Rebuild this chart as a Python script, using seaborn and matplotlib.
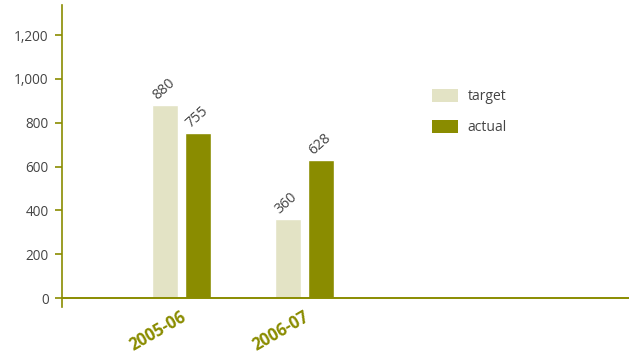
import matplotlib
matplotlib.use("Agg")
import matplotlib.pyplot as plt
import matplotlib.transforms as mtransforms
from matplotlib.patches import Patch
from matplotlib.ticker import FuncFormatter
import pandas as pd
import seaborn as sns

# Data
periods = ["2005-06", "2006-07"]
target = [880, 360]
actual = [755, 628]
series_names = ["target", "actual"]
y_ticks = [0, 200, 400, 600, 800, 1000, 1200]

OLIVE = "#8a8c00"
PALE = "#e3e3c5"
TEXT = "#444444"

sns.set_theme(style="white")
plt.rcParams["font.family"] = ["Open Sans", "DejaVu Sans"]

df = pd.DataFrame({
    "period": periods * 2,
    "series": [series_names[0]] * len(periods) + [series_names[1]] * len(periods),
    "value": target + actual,
})

W, H = 635, 354
fig = plt.figure(figsize=(W / 100, H / 100), dpi=100)
ax = fig.add_axes([62 / W, 47 / H, (629 - 62) / W, (307 - 5) / H])

sns.barplot(
    data=df, x="period", y="value", hue="series",
    order=periods, hue_order=series_names,
    palette=[PALE, OLIVE], width=0.54, gap=0.215,
    saturation=1, legend=False, ax=ax,
)

ax.set_xlim(-0.976, 3.65)
ax.set_ylim(-41, 1337)
ax.set_xlabel("")
ax.set_ylabel("")

# Axes styling
for side in ("top", "right", "bottom"):
    ax.spines[side].set_visible(False)
ax.spines["left"].set_color(OLIVE)
ax.spines["left"].set_linewidth(1.2)
ax.axhline(0, color=OLIVE, lw=1.4, zorder=3)

ax.set_yticks(y_ticks)
ax.yaxis.set_major_formatter(FuncFormatter(lambda v, _: f"{int(v):,}"))
ax.tick_params(axis="y", direction="out", length=5, width=1.2, color=OLIVE,
               labelcolor=TEXT, labelsize=9.8, pad=4.5, left=True)

# Category labels
ax.set_xticks(range(len(periods)))
ax.set_xticklabels([])
ax.tick_params(axis="x", length=0)
offset = mtransforms.ScaledTranslation(-1 / 100, -1 / 100, fig.dpi_scale_trans)
trans = mtransforms.blended_transform_factory(ax.transData, ax.transAxes) + offset
for i, p in enumerate(periods):
    ax.text(i, 0, p, transform=trans, rotation=30, rotation_mode="anchor",
            ha="right", va="top", fontsize=12, fontweight="bold", color=OLIVE)

# Value labels above bars
vals = [target, actual]
for cont, series_vals in zip(ax.containers, vals):
    for bar, v in zip(cont.patches, series_vals):
        ax.annotate(f"{v}", (bar.get_x(), v), xytext=(5, 5),
                    textcoords="offset pixels", rotation=42,
                    rotation_mode="anchor", ha="left", va="baseline",
                    fontsize=10.2, color=TEXT)

# Legend
handles = [Patch(facecolor=PALE, edgecolor="none"),
           Patch(facecolor=OLIVE, edgecolor="none")]
ax.legend(handles, series_names, loc="upper left",
          bbox_to_anchor=(432 / W, 1 - 89 / H), bbox_transform=fig.transFigure,
          frameon=False, fontsize=10, labelcolor=TEXT,
          handlelength=1.87, handleheight=1.05, handletextpad=0.7,
          labelspacing=1.12, borderpad=0, borderaxespad=0)

fig.savefig("out.png", dpi=100, facecolor="white")
